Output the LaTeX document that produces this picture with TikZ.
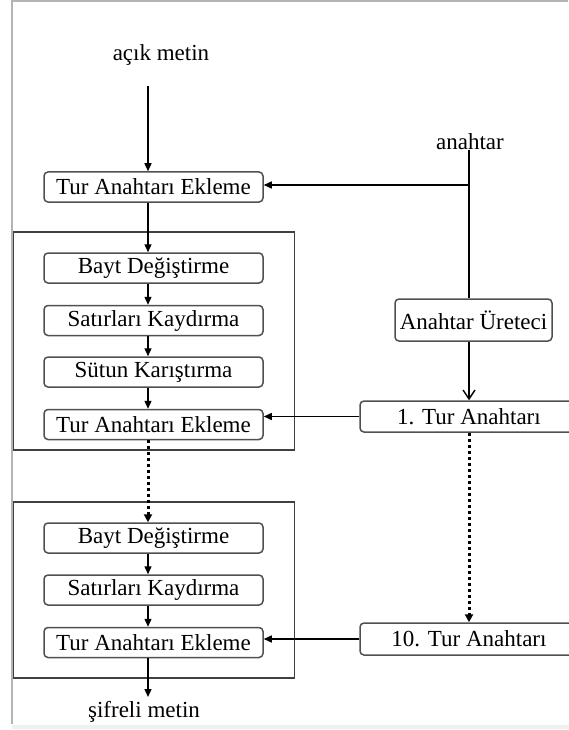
\documentclass[tikz,border=0pt]{standalone}
\usepackage{fontspec}
\setmainfont{Liberation Serif}
\usetikzlibrary{arrows.meta}
\definecolor{boxgray}{HTML}{505050}
\definecolor{framegray}{HTML}{404040}
\definecolor{pagegray}{HTML}{B4B4B4}
\begin{document}
\begin{tikzpicture}[x=1pt,y=-1pt,
  txt/.style={font=\fontsize{23}{27}\selectfont, inner sep=0pt},
  stage/.style={txt, draw=boxgray, line width=1.5pt, rounded corners=4pt,
    minimum width=219pt, minimum height=30pt},
  keybox/.style={stage, minimum width=218pt, minimum height=31pt},
  round/.style={draw=framegray, line width=1.5pt, minimum width=281pt, inner sep=0pt},
  wire/.style={draw=black, line width=1.4pt},
  flow/.style={wire, -{Triangle[length=8pt,width=7pt]}},
  openflow/.style={wire, -{Straight Barb[length=9pt,width=12pt,line width=1.4pt]}},
  dots/.style={draw=black, line width=3pt, dash pattern=on 3pt off 3pt,
    -{Triangle[length=8pt,width=8pt]}}
]
\useasboundingbox (0,0) rectangle (569,730);
\fill[white] (0,0) rectangle (569,730);

% page border
\draw[pagegray, line width=2pt] (568,1) -- (11.5,1) -- (11.5,724);
\draw[gray!12, line width=4pt] (12,727) -- (569,727);

% helper columns
\coordinate (spine) at (148,0);
\coordinate (keyx) at (469,0);

% round frames
\node[round, minimum height=218pt] (round1) at (154,341) {};
\node[round, minimum height=176pt] (round2) at (154,590) {};

% left column
\node[txt] (plain) at (161,55) {açık metin};
\coordinate (plainout) at (148,86);
\node[stage] (tae0) at (153.5,187) {Tur Anahtarı Ekleme};
\node[stage] (bayt1) at (153.5,268) {Bayt Değiştirme};
\node[stage] (sat1) at (153.5,320.5) {Satırları Kaydırma};
\node[stage] (sut1) at (153.5,372) {Sütun Karıştırma};
\node[stage] (tae1) at (153.5,424.5) {Tur Anahtarı Ekleme};
\node[stage] (bayt2) at (153.5,538) {Bayt Değiştirme};
\node[stage] (sat2) at (153.5,590) {Satırları Kaydırma};
\node[stage] (tae2) at (153.5,642.5) {Tur Anahtarı Ekleme};
\coordinate (cipherin) at (148,697);
\node[txt] (cipher) at (144,712) {şifreli metin};

% right column
\node[txt] (key) at (470,142) {anahtar};
\coordinate (split) at (469,185);
\node[stage, minimum width=157pt, minimum height=42pt] (gen) at (473.5,320) {Anahtar Üreteci};
\node[keybox] (k1) at (469,416.5) {1. Tur Anahtarı};
\node[keybox, minimum height=32pt] (k10) at (469,639) {10. Tur Anahtarı};

% data path
\draw[flow] (plainout) -- (tae0.north -| spine);
\draw[flow] (tae0.south -| spine) -- (bayt1.north -| spine);
\draw[flow] (bayt1.south -| spine) -- (sat1.north -| spine);
\draw[flow] (sat1.south -| spine) -- (sut1.north -| spine);
\draw[flow] (sut1.south -| spine) -- (tae1.north -| spine);
\draw[dots] (tae1.south -| spine) -- (bayt2.north -| spine);
\draw[flow] (bayt2.south -| spine) -- (sat2.north -| spine);
\draw[flow] (sat2.south -| spine) -- (tae2.north -| spine);
\draw[flow] (tae2.south -| spine) -- (cipherin);

% key schedule
\draw[wire] (key.south -| keyx) -- (gen.north -| keyx);
\draw[flow] (split) -- (tae0.east |- split);
\draw[openflow] (gen.south -| keyx) -- (k1.north -| keyx);
\draw[flow] (k1.west) -- (k1.west -| tae1.east);
\draw[dots] (k1.south -| keyx) -- (k10.north -| keyx);
\draw[flow] (k10.west) -- (k10.west -| tae2.east);
\end{tikzpicture}
\end{document}
